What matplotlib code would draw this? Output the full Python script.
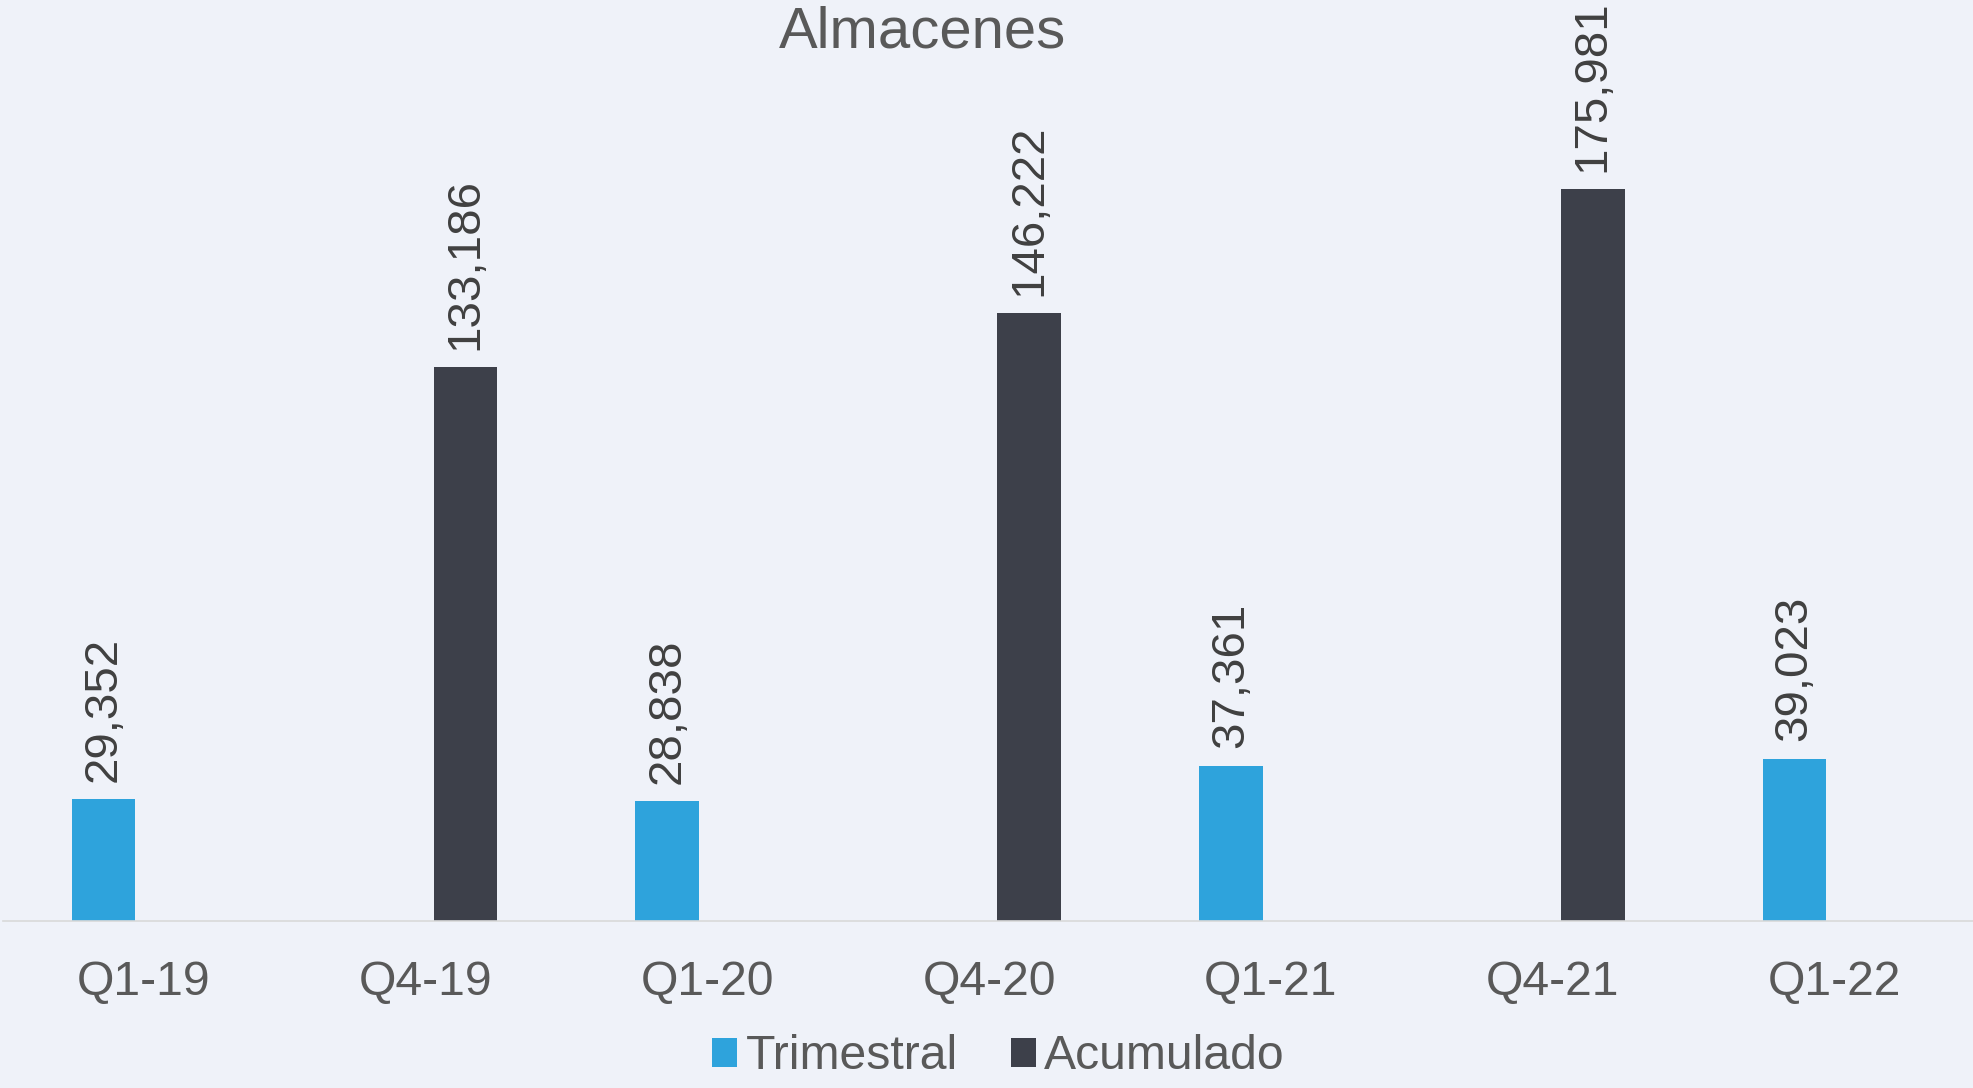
import numpy as np
import matplotlib
matplotlib.use("Agg")
import matplotlib.pyplot as plt

categories = ["Q1-19", "Q4-19", "Q1-20", "Q4-20", "Q1-21", "Q4-21", "Q1-22"]
trimestral = [29352, np.nan, 28838, np.nan, 37361, np.nan, 39023]
acumulado = [np.nan, 133186, np.nan, 146222, np.nan, 175981, np.nan]
series_names = ["Trimestral", "Acumulado"]
title = "Almacenes"

BG = "#EFF2F9"
BLUE = "#2EA3DC"
DARK = "#3D404A"
TXT = "#595959"
LBL = "#404040"

plt.rcParams["font.family"] = ["Liberation Sans", "DejaVu Sans"]

fig = plt.figure(figsize=(19.73, 10.88), dpi=100, facecolor=BG)
ax = fig.add_axes([0.0013, 0.1535, 1.0, 0.8465], facecolor=BG)

x = np.arange(len(categories))
off = 0.142
w = 0.2256
fs = 34.7

b1 = ax.bar(x - off, trimestral, width=w, color=BLUE, label=series_names[0])
b2 = ax.bar(x + off, acumulado, width=w, color=DARK, label=series_names[1])

for bars, vals in ((b1, trimestral), (b2, acumulado)):
    for rect, v in zip(bars, vals):
        if np.isnan(v):
            continue
        ax.annotate(f"{v:,.0f}", xy=(rect.get_x() + rect.get_width() / 2, v),
                    xytext=(0, 12.5), textcoords="offset points",
                    rotation=90, ha="center", va="bottom",
                    fontsize=34.2, color=LBL, annotation_clip=False)

ax.set_xlim(-0.5, 6.5)
ax.set_ylim(0, 221500)
ax.set_xticks(x)
ax.set_xticklabels(categories, fontsize=fs, color=TXT)
ax.tick_params(axis="x", length=0, pad=28)
ax.set_yticks([])
for s in ("top", "left", "right"):
    ax.spines[s].set_visible(False)
ax.spines["bottom"].set_color("#D9D9D9")
ax.spines["bottom"].set_linewidth(1.2)

fig.text(0.4675, 1 - 47 / 1088, title, ha="center", va="baseline",
         fontsize=41.8, color=TXT)

leg = fig.legend(handles=[b1, b2], labels=series_names, loc="lower center",
                 bbox_to_anchor=(0.506, -0.032), ncol=2, frameon=False,
                 fontsize=fs, labelcolor=TXT, handlelength=0.53,
                 handleheight=0.53, handletextpad=0.17, columnspacing=1.1)

fig.savefig("out.png", dpi=100, facecolor=BG)
